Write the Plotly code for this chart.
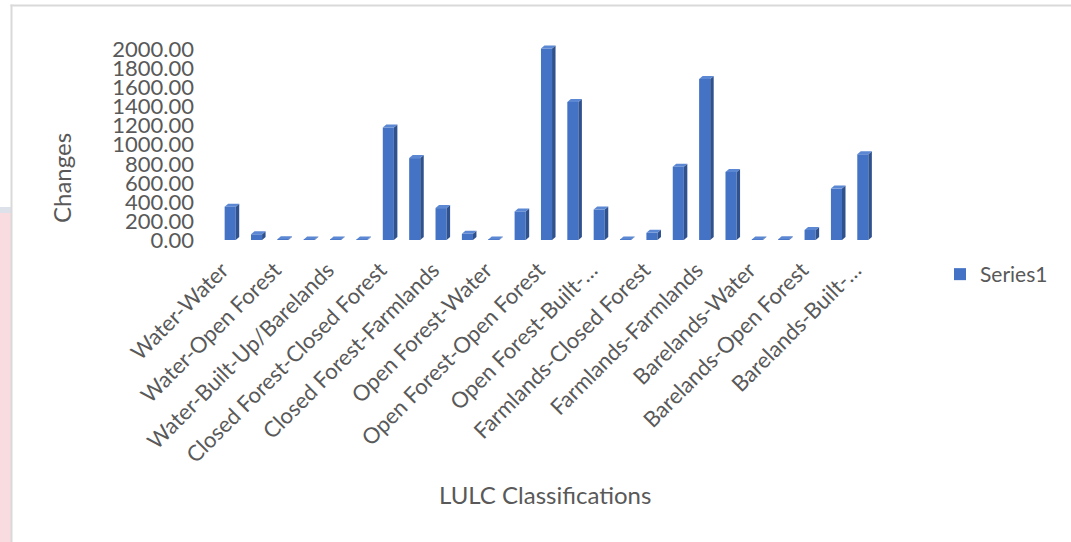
import plotly.graph_objects as go

# Land-use / land-cover transition classes and the area that changed
categories = [
    "Water-Water", "Water-Closed Forest", "Water-Open Forest", "Water-Farmlands",
    "Water-Built-Up/Barelands",
    "Closed Forest-Water", "Closed Forest-Closed Forest", "Closed Forest-Open Forest",
    "Closed Forest-Farmlands", "Closed Forest-Built-Up/Barelands",
    "Open Forest-Water", "Open Forest-Closed Forest", "Open Forest-Open Forest",
    "Open Forest-Farmlands", "Open Forest-Built-Up/Barelands",
    "Farmlands-Water", "Farmlands-Closed Forest", "Farmlands-Open Forest",
    "Farmlands-Farmlands", "Farmlands-Built-Up/Barelands",
    "Barelands-Water", "Barelands-Closed Forest", "Barelands-Open Forest",
    "Barelands-Farmlands", "Barelands-Built-Up/Barelands",
]
changes = [
    350, 60, 8, 6, 5,
    5, 1180, 860, 335, 65,
    5, 300, 2010, 1450, 320,
    5, 75, 770, 1690, 715,
    5, 8, 105, 540, 900,
]
series_name = "Series1"
y_ticks = [0, 200, 400, 600, 800, 1000, 1200, 1400, 1600, 1800, 2000]

# ---- styling ----
FONT = "Lato"
TEXT = "#595959"
FRONT = "#4472C4"
SIDE = "#2F528F"
TOP = "#5B87D3"

W, H = 1071, 542
M = dict(l=217, r=195, t=40, b=302)
Y_MAX = 2100
BAR_W = 0.42
DEPTH_PX = (3.5, 3.0)  # apparent depth of the 3-D columns in pixels

plot_w = W - M["l"] - M["r"]
plot_h = H - M["t"] - M["b"]
dx = DEPTH_PX[0] / (plot_w / len(categories))
dy = DEPTH_PX[1] / (plot_h / Y_MAX)


def px_x(px):
    return (px - M["l"]) / plot_w


def px_y(py):
    return 1 - (py - M["t"]) / plot_h


def short_label(label):
    # long names are cut after the last hyphen that fits, like the spreadsheet does
    if len(label) <= 27:
        return label
    return label[: label.rfind("-", 0, 20) + 1] + "\u2026"


pos = list(range(len(categories)))

fig = go.Figure()
fig.add_trace(go.Bar(
    x=pos, y=changes, width=BAR_W, name=series_name,
    marker=dict(color=FRONT, line=dict(width=0)),
    hovertext=categories, showlegend=True,
))

# side and top faces give the columns their 3-D look
for i, v in zip(pos, changes):
    xl, xr = i - BAR_W / 2, i + BAR_W / 2
    side = f"M{xr},0 L{xr + dx},{dy} L{xr + dx},{v + dy} L{xr},{v} Z"
    top = f"M{xl},{v} L{xl + dx},{v + dy} L{xr + dx},{v + dy} L{xr},{v} Z"
    fig.add_shape(type="path", path=side, xref="x", yref="y",
                  fillcolor=SIDE, line=dict(width=0), layer="above")
    fig.add_shape(type="path", path=top, xref="x", yref="y",
                  fillcolor=TOP, line=dict(width=0), layer="above")

# page decoration: chart frame and the neighbouring strip on the left
deco = [
    dict(x0=0, x1=11, y0=207, y1=213, color="#DDE1EA"),
    dict(x0=0, x1=11, y0=213, y1=542, color="#F9DCDF"),
    dict(x0=10.5, x1=12.5, y0=4.5, y1=542, color="#D9D9D9"),
    dict(x0=10.5, x1=1071, y0=4.5, y1=6.5, color="#D9D9D9"),
]
for d in deco:
    fig.add_shape(type="rect", xref="paper", yref="paper",
                  x0=px_x(d["x0"]), x1=px_x(d["x1"]),
                  y0=px_y(d["y1"]), y1=px_y(d["y0"]),
                  fillcolor=d["color"], line=dict(width=0), layer="below")

fig.add_annotation(text="Changes", textangle=-90, showarrow=False,
                   xref="paper", yref="paper", x=px_x(61), y=px_y(178),
                   xanchor="center", yanchor="middle",
                   font=dict(family=FONT, size=24, color=TEXT))
fig.add_annotation(text="LULC Classifications", showarrow=False,
                   xref="paper", yref="paper", x=px_x(545), y=px_y(494),
                   xanchor="center", yanchor="middle",
                   font=dict(family=FONT, size=24, color=TEXT))

fig.update_layout(
    width=W, height=H, margin=M,
    paper_bgcolor="white", plot_bgcolor="rgba(0,0,0,0)",
    font=dict(family=FONT, color=TEXT),
    showlegend=True,
    legend=dict(xref="container", yref="container", x=940 / W, y=1 - 254 / H,
                xanchor="left", yanchor="top", bgcolor="rgba(0,0,0,0)",
                font=dict(family=FONT, size=21, color=TEXT)),
    xaxis=dict(
        range=[-0.5, len(categories) - 0.5],
        tickmode="array", tickvals=pos[::2],
        ticktext=[short_label(c) for c in categories[::2]],
        tickangle=-45, ticks="", showgrid=False, zeroline=False, showline=False,
        ticklabelstandoff=12, ticklabelshift=-8,
        tickfont=dict(family=FONT, size=22, color=TEXT),
    ),
    yaxis=dict(
        range=[0, Y_MAX], tickmode="array", tickvals=y_ticks,
        ticktext=[f"{t:.2f}" for t in y_ticks],
        ticks="", showgrid=False, zeroline=False, showline=False,
        ticklabelstandoff=22,
        tickfont=dict(family=FONT, size=22, color=TEXT),
    ),
)

fig.write_html("out.html")
